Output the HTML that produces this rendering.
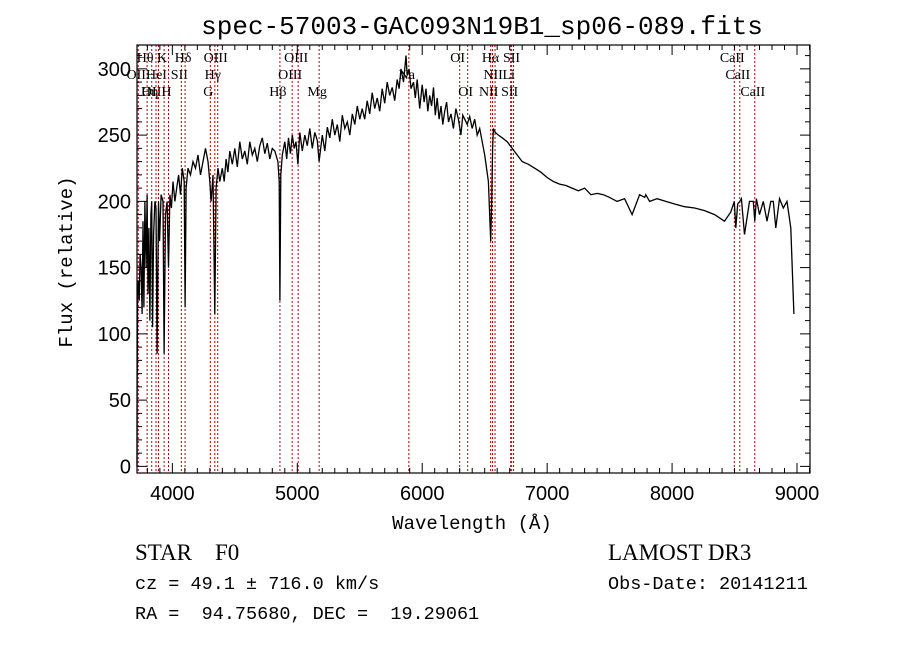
<!DOCTYPE html>
<html><head><meta charset="utf-8"><style>
body{margin:0;background:#fff;}
svg{display:block;font-family:"Liberation Sans",sans-serif;}
</style></head><body>
<svg id="chart" width="900" height="649" viewBox="0 0 900 649" xmlns="http://www.w3.org/2000/svg">
<rect width="900" height="649" fill="#fff"/>
<text x="482" y="34" font-size="26" text-anchor="middle" font-family="Liberation Mono, monospace">spec-57003-GAC093N19B1_sp06-089.fits</text>
<g id="lines"></g>
<g id="spec"></g>
<g id="axes"></g>
<text x="472" y="529" font-size="19" text-anchor="middle" font-family="Liberation Mono, monospace">Wavelength (Å)</text>
<text transform="translate(72,262) rotate(-90)" font-size="19" text-anchor="middle" font-family="Liberation Mono, monospace">Flux (relative)</text>
<text x="135" y="560" font-size="23" font-family="Liberation Serif, serif" xml:space="preserve">STAR    F0</text>
<text x="608" y="560" font-size="23" font-family="Liberation Serif, serif">LAMOST DR3</text>
<text x="135" y="589" font-size="18.5" font-family="Liberation Mono, monospace">cz = 49.1 ± 716.0 km/s</text>
<text x="608" y="589" font-size="18.5" font-family="Liberation Mono, monospace">Obs-Date: 20141211</text>
<text x="135" y="619" font-size="18.5" font-family="Liberation Mono, monospace" xml:space="preserve">RA =  94.75680, DEC =  19.29061</text>
</svg>
<script>
const wave=[3717,3718,3722,3728,3735,3742,3750,3758,3765,3772,3780,3790,3798,3805,3812,3820,3828,3835,3842,3850,3860,3869,3878,3889,3898,3910,3925,3934,3945,3958,3969,3980,3992,4005,4020,4035,4050,4065,4080,4095,4102,4110,4125,4145,4165,4185,4205,4225,4245,4265,4285,4300,4310,4325,4340,4350,4365,4380,4400,4415,4430,4445,4460,4480,4500,4520,4540,4560,4580,4600,4620,4640,4660,4680,4700,4720,4740,4760,4780,4800,4820,4845,4855,4861,4868,4880,4900,4915,4930,4945,4960,4975,4990,5005,5020,5040,5060,5080,5100,5120,5140,5160,5175,5200,5220,5240,5260,5280,5300,5320,5340,5360,5380,5400,5420,5440,5460,5480,5500,5520,5540,5560,5580,5600,5620,5640,5660,5680,5700,5720,5740,5760,5780,5800,5815,5830,5850,5870,5880,5895,5910,5930,5945,5960,5980,6000,6015,6030,6045,6060,6075,6090,6105,6120,6135,6150,6165,6180,6195,6210,6230,6250,6270,6290,6310,6325,6340,6360,6380,6400,6420,6440,6460,6480,6500,6530,6548,6556,6563,6570,6585,6610,6640,6680,6720,6760,6800,6850,6900,6950,7000,7050,7100,7150,7200,7250,7300,7350,7400,7450,7500,7560,7620,7680,7740,7780,7790,7820,7880,7950,8020,8100,8180,8260,8340,8420,8470,8498,8510,8525,8542,8555,8580,8620,8650,8662,8675,8700,8730,8760,8790,8810,8830,8860,8890,8920,8950,8975,8985,8998];
const flux=[0,52,130,140,125,160,150,115,185,120,200,150,205,130,180,110,190,200,105,175,200,195,85,200,170,205,200,85,190,200,150,205,195,215,200,210,220,205,225,215,120,210,225,220,230,225,235,220,230,240,230,215,200,220,115,210,225,215,225,215,232,222,238,228,240,226,245,232,238,228,245,235,240,230,242,248,236,244,232,240,238,230,215,125,220,235,245,232,248,236,250,240,245,228,252,238,250,242,255,240,252,246,230,250,238,256,248,262,250,258,245,265,255,260,250,266,258,272,262,270,262,276,266,282,270,278,268,285,274,290,280,286,276,292,285,300,290,310,295,300,285,290,278,292,270,288,275,285,268,280,272,286,265,278,262,272,258,268,275,260,266,255,270,262,250,265,262,258,264,255,262,250,255,245,235,215,170,200,240,255,252,250,248,245,240,235,230,228,225,222,218,215,213,212,210,208,210,205,206,205,203,200,202,190,205,203,205,200,202,200,198,196,195,193,190,185,192,200,180,198,200,202,175,200,200,185,202,190,200,185,200,200,180,202,195,200,180,115];
const lineWave=[3727,3798,3835,3869,3889,3934,3969,4072,4102,4304,4340,4363,4861,4959,5007,5175,5893,6300,6364,6548,6563,6583,6708,6716,6731,8498,8542,8662];
const lineLabel=["OII","Hθ","Hη","OIII","HeI","K","H","SII","Hδ","G","Hγ","OIII","Hβ","OIII","OIII","Mg","Na","OI","OI","NII","Hα","NII","Li","SII","SII","CaII","CaII","CaII"];
const lineRow=[1,0,2,2,1,0,2,1,0,2,1,0,2,1,0,2,1,0,2,2,0,1,1,2,0,0,1,2];
const xTicks=[4000,5000,6000,7000,8000,9000];
const yTicks=[0,50,100,150,200,250,300];

const X0=137,X1=810,Y0=45,Y1=473;
const xmin=3717,xmax=9104,ymin=-5,ymax=318;
const sx=w=>X0+(w-xmin)/(xmax-xmin)*(X1-X0);
const sy=f=>Y1-(f-ymin)/(ymax-ymin)*(Y1-Y0);
const NS="http://www.w3.org/2000/svg";
function mk(tag,attrs,parent){const e=document.createElementNS(NS,tag);for(const k in attrs)e.setAttribute(k,attrs[k]);parent.appendChild(e);return e;}

const lg=document.getElementById('lines');
lineWave.forEach((w,i)=>{
  const l=mk('line',{x1:sx(w),x2:sx(w),y1:Y0,y2:Y1,stroke:'#b00000','stroke-width':1,'stroke-dasharray':'2,2'},lg);
  
  
  const t=mk('text',{x:sx(w)-2,y:62+lineRow[i]*17,'font-size':14,'text-anchor':'middle','font-family':'Liberation Serif, serif'},lg);
  t.textContent=lineLabel[i];
  
  
});

const sg=document.getElementById('spec');
const pts=wave.map((w,i)=>sx(w).toFixed(1)+','+sy(flux[i]).toFixed(1)).join(' ');
const pl=mk('polyline',{points:pts,fill:'none',stroke:'#000','stroke-width':1.3},sg);



const ax=document.getElementById('axes');
const fr=mk('rect',{x:X0,y:Y0,width:X1-X0,height:Y1-Y0,fill:'none',stroke:'#000','stroke-width':1.2},ax);


for(let w=3800;w<=9100;w+=100){const big=w%1000===0;
  mk('line',{x1:sx(w),x2:sx(w),y1:Y1,y2:Y1-(big?10:5),stroke:'#000'},ax);
  mk('line',{x1:sx(w),x2:sx(w),y1:Y0,y2:Y0+(big?10:5),stroke:'#000'},ax);}
for(let f=0;f<=310;f+=10){const big=f%50===0;
  mk('line',{x1:X0,x2:X0+(big?10:5),y1:sy(f),y2:sy(f),stroke:'#000'},ax);
  mk('line',{x1:X1,x2:X1-(big?10:5),y1:sy(f),y2:sy(f),stroke:'#000'},ax);}
xTicks.forEach(v=>{const t=mk('text',{x:sx(v),y:Y1+27,'font-size':20,'text-anchor':'middle'},ax);t.textContent=v;
  
  });
yTicks.forEach(v=>{const t=mk('text',{x:X0-6,y:sy(v)+7,'font-size':20,'text-anchor':'end'},ax);t.textContent=v;
  
  });
</script>
</body></html>
